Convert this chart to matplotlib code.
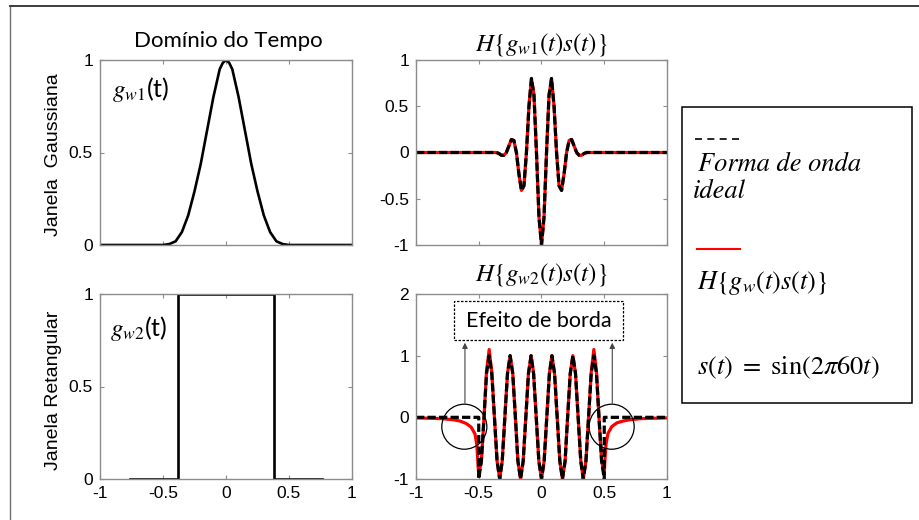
import matplotlib
matplotlib.use("Agg")
import matplotlib.pyplot as plt
from matplotlib.patches import Rectangle, Ellipse
from matplotlib.lines import Line2D

plt.rcParams['mathtext.fontset'] = 'stix'
plt.rcParams['font.family'] = ['Liberation Sans', 'DejaVu Sans']

# ---- dados ----
# janela gaussiana
gauss_t = [-1.0, -0.5, -0.45, -0.4, -0.35, -0.3, -0.25, -0.2, -0.15, -0.1, -0.05, -0.025, 0.0,
           0.025, 0.05, 0.1, 0.15, 0.2, 0.25, 0.3, 0.35, 0.4, 0.45, 0.5, 1.0]
gauss_v = [0.0, 0.0, 0.005, 0.02, 0.07, 0.16, 0.29, 0.44, 0.62, 0.80, 0.95, 0.985, 1.0,
           0.985, 0.95, 0.80, 0.62, 0.44, 0.29, 0.16, 0.07, 0.02, 0.005, 0.0, 0.0]

# janela retangular
rect_t = [-0.76, -0.38, -0.38, 0.38, 0.38, 0.76]
rect_v = [0.0, 0.0, 1.0, 1.0, 0.0, 0.0]

# H{g_w1(t)s(t)}
h1_t = [-1.0, -0.40, -0.38, -0.36, -0.34, -0.32, -0.30, -0.28, -0.26, -0.24, -0.22,
        -0.20, -0.18, -0.16, -0.14, -0.12, -0.10, -0.08, -0.06, -0.04, -0.02, 0.0,
        0.02, 0.04, 0.06, 0.08, 0.10, 0.12, 0.14, 0.16, 0.18, 0.20,
        0.22, 0.24, 0.26, 0.28, 0.30, 0.32, 0.34, 0.36, 0.38, 0.40, 1.0]
h1_ideal = [0.0, 0.0, 0.0, 0.0, -0.01, -0.03, -0.03, 0.0, 0.07, 0.14, 0.13,
            0.0, -0.23, -0.41, -0.36, 0.0, 0.50, 0.80, 0.62, 0.0, -0.70, -1.0,
            -0.70, 0.0, 0.62, 0.80, 0.50, 0.0, -0.36, -0.41, -0.23, 0.0,
            0.13, 0.14, 0.07, 0.0, -0.03, -0.03, -0.01, 0.0, 0.0, 0.0, 0.0]
h1_real = [0.0, 0.0, 0.0, 0.0, -0.01, -0.03, -0.03, 0.0, 0.07, 0.14, 0.13,
           0.0, -0.23, -0.41, -0.36, 0.0, 0.50, 0.80, 0.62, 0.0, -0.70, -1.0,
           -0.70, 0.0, 0.62, 0.80, 0.50, 0.0, -0.36, -0.41, -0.23, 0.0,
           0.13, 0.14, 0.07, 0.0, -0.03, -0.03, -0.01, 0.0, 0.0, 0.0, 0.0]

# H{g_w2(t)s(t)}
h2_core_t = [-0.500, -0.479, -0.458, -0.438, -0.417, -0.396, -0.375, -0.354,
             -0.333, -0.313, -0.292, -0.271, -0.250, -0.229, -0.208, -0.188,
             -0.167, -0.146, -0.125, -0.104, -0.083, -0.063, -0.042, -0.021,
             0.000,
             0.021, 0.042, 0.063, 0.083, 0.104, 0.125, 0.146, 0.167,
             0.188, 0.208, 0.229, 0.250, 0.271, 0.292, 0.313, 0.333,
             0.354, 0.375, 0.396, 0.417, 0.438, 0.458, 0.479, 0.500]
h2_core_ideal = [-1.0, -0.71, 0.0, 0.71, 1.0, 0.71, 0.0, -0.71,
                 -1.0, -0.71, 0.0, 0.71, 1.0, 0.71, 0.0, -0.71,
                 -1.0, -0.71, 0.0, 0.71, 1.0, 0.71, 0.0, -0.71,
                 -1.0,
                 -0.71, 0.0, 0.71, 1.0, 0.71, 0.0, -0.71, -1.0,
                 -0.71, 0.0, 0.71, 1.0, 0.71, 0.0, -0.71, -1.0,
                 -0.71, 0.0, 0.71, 1.0, 0.71, 0.0, -0.71, -1.0]
h2_core_real = [-0.92, -0.71, 0.0, 0.75, 1.1, 0.73, 0.0, -0.71,
                -1.0, -0.71, 0.0, 0.71, 1.0, 0.71, 0.0, -0.71,
                -1.0, -0.71, 0.0, 0.71, 1.0, 0.71, 0.0, -0.71,
                -1.0,
                -0.71, 0.0, 0.71, 1.0, 0.71, 0.0, -0.71, -1.0,
                -0.71, 0.0, 0.71, 1.0, 0.71, 0.0, -0.71, -1.0,
                -0.71, 0.0, 0.73, 1.1, 0.75, 0.0, -0.71, -0.92]
h2_edge_left_t = [-1.0, -0.8, -0.7, -0.65, -0.6, -0.56, -0.53, -0.515, -0.505]
h2_edge_left_v = [-0.01, -0.02, -0.04, -0.06, -0.10, -0.16, -0.27, -0.45, -0.8]
h2_edge_right_t = [0.505, 0.515, 0.53, 0.56, 0.6, 0.65, 0.7, 0.8, 1.0]
h2_edge_right_v = [-0.7, -0.42, -0.26, -0.15, -0.09, -0.06, -0.04, -0.02, -0.01]

h2_ideal_t = [-1.0, -0.5] + h2_core_t + [0.5, 1.0]
h2_ideal_v = [0.0, 0.0] + h2_core_ideal + [0.0, 0.0]
h2_real_t = h2_edge_left_t + h2_core_t + h2_edge_right_t
h2_real_v = h2_edge_left_v + h2_core_real + h2_edge_right_v

W, H = 920, 520
fig = plt.figure(figsize=(W / 100, H / 100), dpi=100)


def fx(x):
    return x / W


def fy(y):
    return 1 - y / H


def make_ax(l, t, r, b):
    ax = fig.add_axes([fx(l), fy(b), (r - l) / W, (b - t) / H])
    for s in ax.spines.values():
        s.set_color('#8c8c8c')
        s.set_linewidth(1.0)
    ax.tick_params(direction='in', length=3, width=0.8, color='#8c8c8c',
                   top=True, right=True, labelsize=12.5, pad=5)
    ax.set_xlim(-1, 1)
    ax.set_xticks([-1, -0.5, 0, 0.5, 1])
    return ax


dash = (0, (2.6, 1.0))

# PLOT 1
ax1 = make_ax(100, 60, 352, 245)
ax1.plot(gauss_t, gauss_v, color='black', lw=1.9)
ax1.set_ylim(0, 1)
ax1.set_yticks([0, 0.5, 1])
ax1.set_yticklabels(['0', '0.5', '1'])
ax1.set_xticklabels([])

# PLOT 2
ax2 = make_ax(416, 60, 667, 245)
ax2.plot(h1_t, h1_real, color='red', lw=2.3)
ax2.plot(h1_t, h1_ideal, color='black', lw=2.3, linestyle=dash)
ax2.set_ylim(-1, 1)
ax2.set_yticks([-1, -0.5, 0, 0.5, 1])
ax2.set_yticklabels(['-1', '-0.5', '0', '0.5', '1'])
ax2.set_xticklabels([])

# PLOT 3
ax3 = make_ax(100, 294, 352, 479)
ax3.plot(rect_t, rect_v, color='black', lw=1.9)
ax3.set_ylim(0, 1)
ax3.set_yticks([0, 0.5, 1])
ax3.set_yticklabels(['0', '0.5', '1'])
ax3.set_xticklabels(['-1', '-0.5', '0', '0.5', '1'])

# PLOT 4
ax4 = make_ax(416, 294, 667, 479)
ax4.plot(h2_real_t, h2_real_v, color='red', lw=2.3)
ax4.plot(h2_ideal_t, h2_ideal_v, color='black', lw=2.3, linestyle=dash)
ax4.set_ylim(-1, 2)
ax4.set_yticks([-1, 0, 1, 2])
ax4.set_yticklabels(['-1', '0', '1', '2'])
ax4.set_xticklabels(['-1', '-0.5', '0', '0.5', '1'])

# efeito de borda
for cx in (-0.615, 0.559):
    ax4.add_patch(Ellipse((cx, -0.152), 0.359, 0.73, fill=False, ec='black', lw=0.9, zorder=5))
    ax4.annotate('', xy=(cx + 0.005, 1.21), xytext=(cx + 0.005, 0.23),
                 arrowprops=dict(arrowstyle='-|>', color='#444444', lw=0.8,
                                 mutation_scale=8, shrinkA=0, shrinkB=0))
ax4.add_patch(Rectangle((-0.70, 1.254), 1.35, 0.636, fill=True, fc='white', ec='black',
                        lw=0.9, linestyle=(0, (2, 1.2)), zorder=6))
ax4.text(-0.025, 1.57, 'Efeito de borda', ha='center', va='center', fontsize=15.5,
         family='Lato', zorder=7)

# textos
fig.text(fx(228), fy(47), 'Domínio do Tempo', ha='center', va='baseline',
         fontsize=16, family='Lato')
fig.text(fx(541), fy(50), r'$H\{g_{w1}(t)s(t)\}$', ha='center', va='baseline', fontsize=18)
fig.text(fx(541), fy(281), r'$H\{g_{w2}(t)s(t)\}$', ha='center', va='baseline', fontsize=18)
fig.text(fx(54), fy(155), 'Janela  Gaussiana', rotation=90, ha='center', va='center',
         fontsize=14)
fig.text(fx(54), fy(390), 'Janela Retangular', rotation=90, ha='center', va='center',
         fontsize=14)
fig.text(fx(112), fy(97), r'$g_{w1}$(t)', ha='left', va='baseline', fontsize=18, family='Lato')
fig.text(fx(110), fy(336), r'$g_{w2}$(t)', ha='left', va='baseline', fontsize=18, family='Lato')

# legenda
fig.add_artist(Rectangle((fx(682), fy(403)), (912 - 682) / W, (403 - 107) / H,
                         transform=fig.transFigure, fill=False, ec='black', lw=1.1))
fig.add_artist(Line2D([fx(695), fx(740)], [fy(139), fy(139)], color='black', lw=1.2,
                      linestyle=(0, (4.2, 3.2))))
fig.text(fx(698), fy(171), 'Forma de onda', family='STIXGeneral', style='italic',
         fontsize=19, va='baseline')
fig.text(fx(693), fy(198), 'ideal', family='STIXGeneral', style='italic',
         fontsize=19, va='baseline')
fig.add_artist(Line2D([fx(697), fx(740)], [fy(249), fy(249)], color='red', lw=1.5))
fig.text(fx(697), fy(289), r'$H\{g_w(t)s(t)\}$', fontsize=19, va='baseline')
fig.text(fx(697), fy(374), r'$s(t)\ =\ \sin(2\pi 60t)$', fontsize=19, va='baseline')

# moldura
fig.add_artist(Line2D([fx(10), fx(10)], [fy(6), fy(520)], color='#6e6e6e', lw=1.0))
fig.add_artist(Line2D([fx(10), fx(920)], [fy(6), fy(6)], color='#3c3c3c', lw=1.4))

fig.savefig('out.png', dpi=100)
